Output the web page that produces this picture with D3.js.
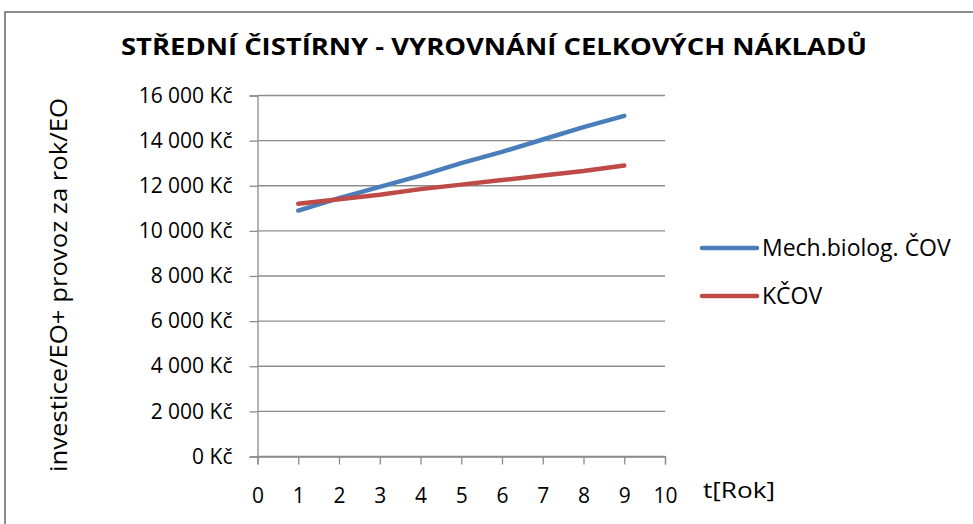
<!DOCTYPE html>
<html>
<head>
<meta charset="utf-8">
<script src="https://cdn.jsdelivr.net/npm/d3@7"></script>
<style>
  body { margin: 0; background: #fff; }
  text { font-family: "Open Sans", sans-serif; fill: #000; }
</style>
</head>
<body>
<svg id="chart" width="973" height="524"></svg>
<script>
// Data
var years = [1, 2, 3, 4, 5, 6, 7, 8, 9];
var mechBiolog = [10900, 11450, 11950, 12450, 13000, 13500, 14050, 14600, 15100];
var kcov = [11200, 11400, 11600, 11850, 12050, 12250, 12450, 12650, 12900];
var yTicks = [0, 2000, 4000, 6000, 8000, 10000, 12000, 14000, 16000];
var xTicks = [0, 1, 2, 3, 4, 5, 6, 7, 8, 9, 10];
var seriesNames = ["Mech.biolog. ČOV", "KČOV"];
var seriesColors = ["#4a7ebb", "#be4b48"];

var svg = d3.select("#chart");

// outer frame
svg.append("rect")
    .attr("x", 5).attr("y", 12)
    .attr("width", 1000).attr("height", 600)
    .attr("fill", "none")
    .attr("stroke", "#8c8c8c")
    .attr("stroke-width", 2);

var x = d3.scaleLinear().domain([0, 10]).range([257.5, 665]);
var y = d3.scaleLinear().domain([0, 16000]).range([456.5, 95.5]);

// title
svg.append("text")
    .attr("x", 494).attr("y", 55)
    .attr("text-anchor", "middle")
    .attr("textLength", 746)
    .attr("lengthAdjust", "spacingAndGlyphs")
    .style("font-size", "23px")
    .style("font-weight", "bold")
    .text("STŘEDNÍ ČISTÍRNY - VYROVNÁNÍ CELKOVÝCH NÁKLADŮ");

// gridlines
svg.append("g")
    .selectAll("line")
    .data(yTicks)
    .enter().append("line")
    .attr("x1", x(0)).attr("x2", x(10))
    .attr("y1", d => y(d)).attr("y2", d => y(d))
    .attr("stroke", "#8c8c8c")
    .attr("stroke-width", 1.3);

var fmt = function(d) {
    return d3.format(",")(d).replace(/,/g, "\u00a0") + "\u00a0Kč";
};

// y axis
var yAxis = svg.append("g")
    .attr("transform", "translate(" + x(0) + ",0)")
    .call(d3.axisLeft(y).tickValues(yTicks).tickSize(8).tickPadding(17).tickFormat(fmt));
yAxis.selectAll("line, path").attr("stroke", "#8c8c8c").attr("stroke-width", 1.3);
yAxis.selectAll("text").style("font-size", "21px").style("font-family", "'Open Sans', sans-serif");

// x axis
var xAxis = svg.append("g")
    .attr("transform", "translate(0," + y(0) + ")")
    .call(d3.axisBottom(x).tickValues(xTicks).tickSize(8).tickPadding(24).tickSizeOuter(8));
xAxis.selectAll("line, path").attr("stroke", "#8c8c8c").attr("stroke-width", 1.3);
xAxis.selectAll("text").style("font-size", "21px").style("font-family", "'Open Sans', sans-serif");

// axis titles
svg.append("text")
    .attr("transform", "translate(67,285) rotate(-90)")
    .attr("text-anchor", "middle")
    .attr("textLength", 374)
    .attr("lengthAdjust", "spacingAndGlyphs")
    .style("font-size", "23px")
    .text("investice/EO+ provoz za rok/EO");

svg.append("text")
    .attr("x", 703).attr("y", 498)
    .attr("textLength", 72)
    .attr("lengthAdjust", "spacingAndGlyphs")
    .style("font-size", "22px")
    .text("t[Rok]");

// lines
var line = d3.line()
    .x((d, i) => x(years[i]))
    .y(d => y(d));

[mechBiolog, kcov].forEach(function(values, i) {
    svg.append("path")
        .datum(values)
        .attr("d", line)
        .attr("fill", "none")
        .attr("stroke", seriesColors[i])
        .attr("stroke-width", 4.5)
        .attr("stroke-linecap", "round")
        .attr("stroke-linejoin", "round");
});

// legend
var legend = svg.append("g")
    .selectAll("g")
    .data(seriesNames)
    .enter().append("g")
    .attr("transform", (d, i) => "translate(702," + (248 + i * 48) + ")");

legend.append("line")
    .attr("x1", 0).attr("x2", 55)
    .attr("stroke", (d, i) => seriesColors[i])
    .attr("stroke-width", 4.5)
    .attr("stroke-linecap", "round");

legend.append("text")
    .attr("x", 60).attr("y", 8)
    .style("font-size", "23px")
    .text(d => d);
</script>
</body>
</html>
